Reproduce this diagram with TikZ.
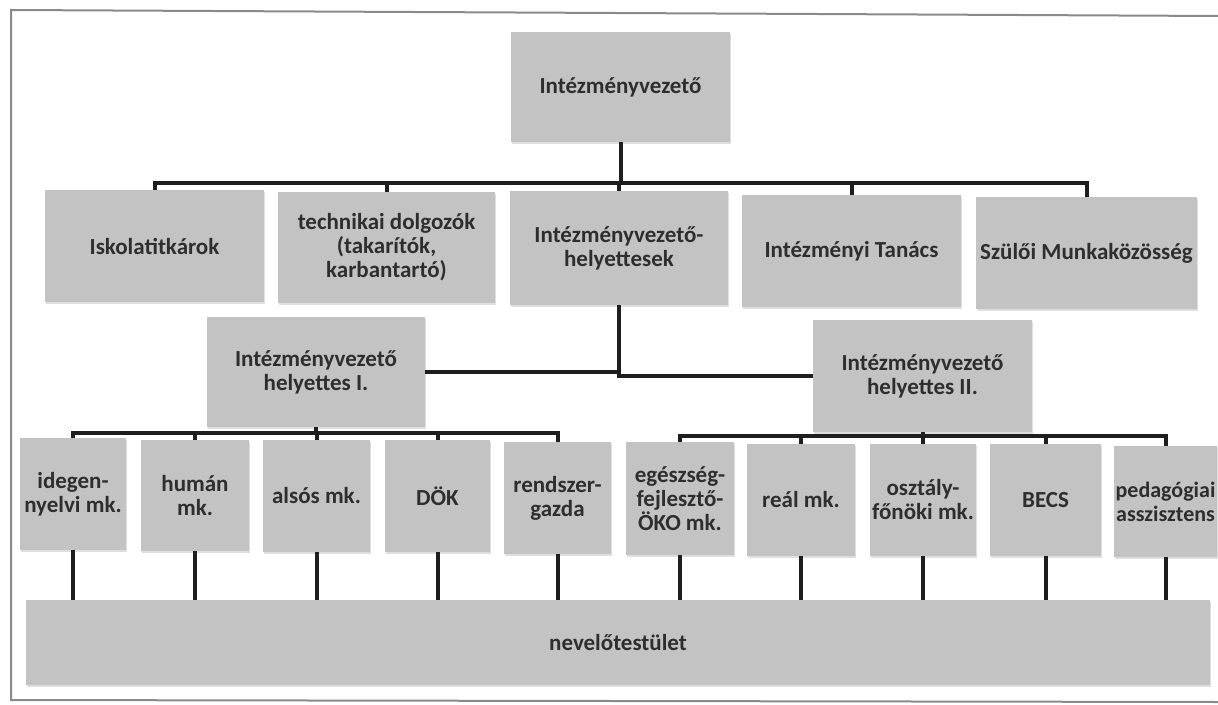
\documentclass[tikz,border=0pt]{standalone}
\usepackage{fontspec}
\setmainfont{Carlito}
\usetikzlibrary{shadows}
\definecolor{boxgray}{HTML}{C3C3C3}
\definecolor{textgray}{HTML}{2E2E2E}
\definecolor{linegray}{HTML}{1E1E1E}
\definecolor{framegray}{HTML}{8A8A8A}
\begin{document}
\begin{tikzpicture}[x=0.5pt, y=-0.5pt, main/.style = {fill=boxgray, text=textgray, align=center, inner sep=0pt, font=\fontsize{11.5}{12}\selectfont\bfseries, drop shadow={opacity=0.25, shadow xshift=0.4pt, shadow yshift=-0.8pt}}, link/.style = {draw=linegray, line width=2pt}]
                    \useasboundingbox (0,0) rectangle (1218,705);
                    \draw[framegray, line width=1pt] (1218,16) -- (11,10) -- (11,700) -- (1218,702);
                    \node[main, minimum width=109.5pt, minimum height=55pt] (1) at (620.5,87) {Intézményvezető};
                    \node[main, minimum width=109.5pt, minimum height=56pt] (2) at (154.5,246) {Iskolatitkárok};
                    \node[main, minimum width=108.5pt, minimum height=55.5pt] (3) at (386.5,247.5) {technikai dolgozók\\(takarítók,\\karbantartó)};
                    \node[main, minimum width=109pt, minimum height=57pt] (4) at (619,248) {Intézményvezető-\\helyettesek};
                    \node[main, minimum width=109.5pt, minimum height=56pt] (5) at (851.5,251) {Intézményi Tanács};
                    \node[main, minimum width=110.5pt, minimum height=56pt] (6) at (1086.5,253) {Szülői Munkaközösség};
                    \node[main, minimum width=109pt, minimum height=55pt] (7) at (316,372) {Intézményvezető\\helyettes I.};
                    \node[main, minimum width=109.5pt, minimum height=56pt] (8) at (922.5,376) {Intézményvezető\\helyettes II.};
                    \node[main, minimum width=53pt, minimum height=56pt] (9) at (73,494) {idegen-\\nyelvi mk.};
                    \node[main, minimum width=54pt, minimum height=55.5pt] (10) at (195,495.5) {humán\\mk.};
                    \node[main, minimum width=53.5pt, minimum height=56pt] (11) at (316.5,496) {alsós mk.};
                    \node[main, minimum width=52.5pt, minimum height=56pt] (12) at (437.5,496) {DÖK};
                    \node[main, minimum width=53.5pt, minimum height=56pt] (13) at (557.5,498) {rendszer-\\gazda};
                    \node[main, minimum width=54pt, minimum height=56.5pt] (14) at (680,498.5) {egészség-\\fejlesztő-\\ÖKO mk.};
                    \node[main, minimum width=54pt, minimum height=56pt] (15) at (801,500) {reál mk.};
                    \node[main, minimum width=53pt, minimum height=56pt] (16) at (923,500) {osztály-\\főnöki mk.};
                    \node[main, minimum width=55.5pt, minimum height=56pt] (17) at (1045.5,500) {BECS};
                    \node[main, minimum width=51.5pt, minimum height=55.5pt, font=\fontsize{11}{12}\selectfont\bfseries] (18) at (1165.5,501.5) {pedagógiai\\asszisztens};
                    \node[main, minimum width=592pt, minimum height=42.5pt] (19) at (618,642.5) {nevelőtestület};
                    \foreach \k in {2,...,6}
                        \draw[link] (1.south) -- ++(0,41) -| (\k.north);
                    \draw[link] (4.south) |- (7.east);
                    \draw[link] (4.south) |- (8.west);
                    \foreach \k in {9,...,13}
                        \draw[link] (7.south) -- ++(0,6) -| (\k.north);
                    \foreach \k in {14,...,18}
                        \draw[link] (8.south) -- ++(0,4) -| (\k.north);
                    \foreach \k in {9,...,18}
                        \draw[link] (\k.south) -- (\k.south |- 19.north);
                \end{tikzpicture}
\end{document}
